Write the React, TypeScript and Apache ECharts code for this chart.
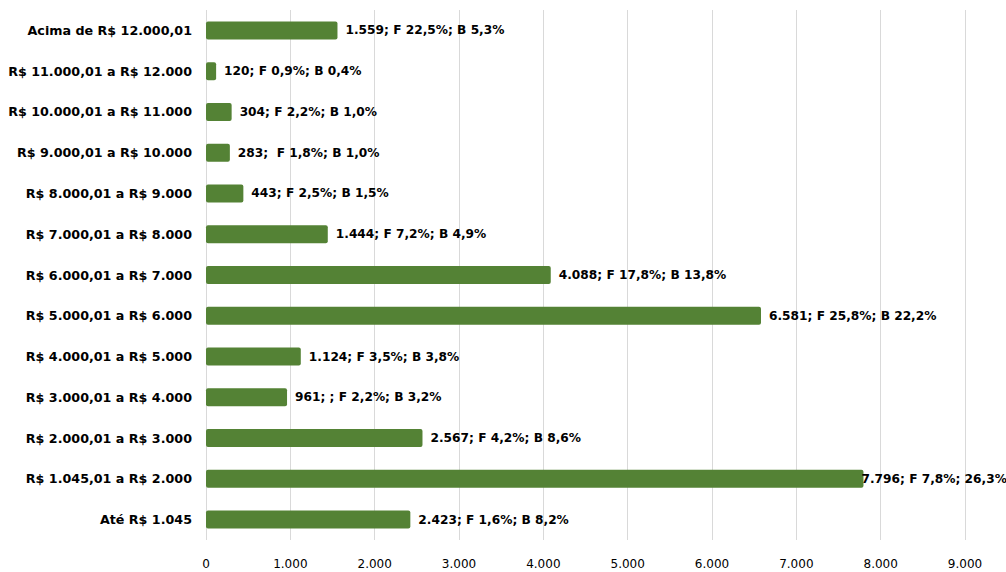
import React, { useEffect, useRef } from "react";
import * as echarts from "echarts";

// bottom to top
const categories = [
  "Até R$ 1.045",
  "R$ 1.045,01 a R$ 2.000",
  "R$ 2.000,01 a R$ 3.000",
  "R$ 3.000,01 a R$ 4.000",
  "R$ 4.000,01 a R$ 5.000",
  "R$ 5.000,01 a R$ 6.000",
  "R$ 6.000,01 a R$ 7.000",
  "R$ 7.000,01 a R$ 8.000",
  "R$ 8.000,01 a R$ 9.000",
  "R$ 9.000,01 a R$ 10.000",
  "R$ 10.000,01 a R$ 11.000",
  "R$ 11.000,01 a R$ 12.000",
  "Acima de R$ 12.000,01",
];
const values = [2423, 7796, 2567, 961, 1124, 6581, 4088, 1444, 443, 283, 304, 120, 1559];
const barLabels = [
  "2.423; F 1,6%; B 8,2%",
  "7.796; F 7,8%; 26,3%",
  "2.567; F 4,2%; B 8,6%",
  "961; ; F 2,2%; B 3,2%",
  "1.124; F 3,5%; B 3,8%",
  "6.581; F 25,8%; B 22,2%",
  "4.088; F 17,8%; B 13,8%",
  "1.444; F 7,2%; B 4,9%",
  "443; F 2,5%; B 1,5%",
  "283;  F 1,8%; B 1,0%",
  "304; F 2,2%; B 1,0%",
  "120; F 0,9%; B 0,4%",
  "1.559; F 22,5%; B 5,3%",
];
const tickLabels = ["0", "1.000", "2.000", "3.000", "4.000", "5.000", "6.000", "7.000", "8.000", "9.000"];

const FONT = "DejaVu Sans";

export default function App() {
  const ref = useRef<HTMLDivElement>(null);
  useEffect(() => {
    const chart = echarts.init(ref.current!, undefined, { renderer: "svg" });
    chart.setOption({
      animation: false,
      backgroundColor: "#ffffff",
      grid: { left: 206, right: 41, top: 10, bottom: 32, containLabel: false },
      xAxis: {
        type: "value",
        min: 0,
        max: 9000,
        interval: 1000,
        axisLine: { show: false },
        axisTick: { show: false },
        splitLine: { lineStyle: { color: "#d9d9d9", width: 1 } },
        axisLabel: {
          color: "#000",
          fontFamily: FONT,
          fontSize: 12,
          margin: 18,
          formatter: (v: number) => tickLabels[Math.round(v / 1000)] ?? "",
        },
      },
      yAxis: {
        type: "category",
        data: categories,
        axisLine: { show: false },
        axisTick: { show: false },
        axisLabel: {
          color: "#000",
          fontFamily: FONT,
          fontSize: 12.7,
          fontWeight: "bold",
          margin: 14,
        },
      },
      series: [
        {
          type: "bar",
          barWidth: 18,
          itemStyle: { color: "#548235", borderRadius: 2 },
          data: values.map((v, i) => ({
            value: v,
            label: i === 1 ? { offset: [-10, 0] } : undefined,
          })),
          label: {
            show: true,
            position: "right",
            distance: 8,
            color: "#000",
            fontFamily: FONT,
            fontSize: 12.2,
            fontWeight: "bold",
            formatter: (p: any) => barLabels[p.dataIndex],
          },
        },
      ],
    });
    return () => chart.dispose();
  }, []);
  return <div ref={ref} style={{ width: 1006, height: 572, position: "absolute", left: 0, top: 0 }} />;
}
